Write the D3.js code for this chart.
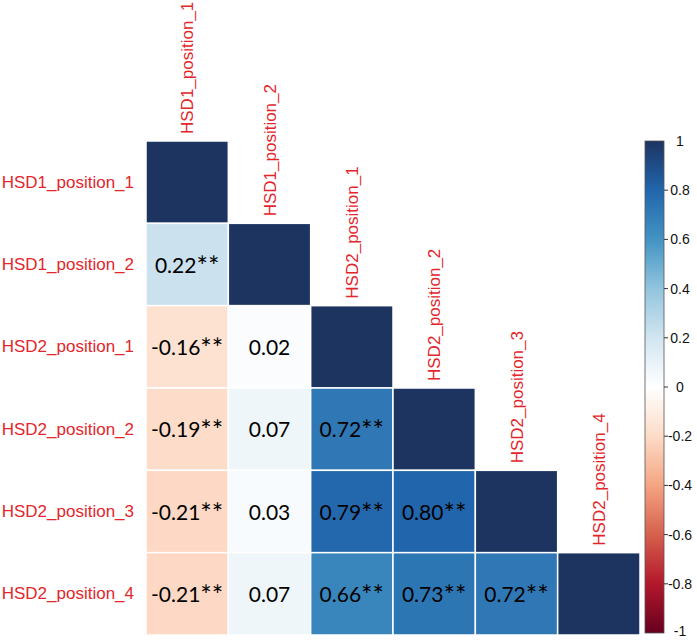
<!DOCTYPE html>
<html>
<head>
<meta charset="utf-8">
<script src="https://cdn.jsdelivr.net/npm/d3@7"></script>
<style>
  html, body { margin: 0; padding: 0; background: #fff; }
  svg { display: block; }
</style>
</head>
<body>
<svg id="chart" width="697" height="642"></svg>
<script>
// ---- data ----
const variables = ["HSD1_position_1", "HSD1_position_2", "HSD2_position_1",
                   "HSD2_position_2", "HSD2_position_3", "HSD2_position_4"];
// lower-triangle correlations, row by row (diagonal = 1)
const corrRows = [
  [1],
  [0.22, 1],
  [-0.16, 0.02, 1],
  [-0.19, 0.07, 0.72, 1],
  [-0.21, 0.03, 0.79, 0.80, 1],
  [-0.21, 0.07, 0.66, 0.73, 0.72, 1]
];
const sigRows = [
  [""],
  ["**", ""],
  ["**", "", ""],
  ["**", "", "**", ""],
  ["**", "", "**", "**", ""],
  ["**", "", "**", "**", "**", ""]
];
const legendTicks = [1, 0.8, 0.6, 0.4, 0.2, 0, -0.2, -0.4, -0.6, -0.8, -1];
const paletteStops = ["#67001F", "#B2182B", "#D6604D", "#F4A582", "#FDDBC7", "#FFFFFF",
                      "#D1E5F0", "#92C5DE", "#4393C3", "#2166AC", "#1d3461"];

// ---- setup ----
const svg = d3.select("#chart");
const color = d3.scaleLinear()
  .domain(d3.range(paletteStops.length).map(i => -1 + 2 * i / (paletteStops.length - 1)))
  .range(paletteStops)
  .interpolate(d3.interpolateRgb);

const x = d3.scaleBand().domain(variables).range([146, 640]).padding(0);
const y = d3.scaleBand().domain(variables).range([141, 635]).padding(0);
const bw = x.bandwidth();

const cells = [];
corrRows.forEach((row, i) => {
  row.forEach((v, j) => {
    cells.push({ r: variables[i], c: variables[j], v, sig: sigRows[i][j], diag: i === j });
  });
});

// cells
svg.append("g").selectAll("rect").data(cells).join("rect")
  .attr("x", d => x(d.c))
  .attr("y", d => y(d.r))
  .attr("width", bw)
  .attr("height", y.bandwidth())
  .attr("fill", d => color(d.v))
  .attr("stroke", "#ffffff")
  .attr("stroke-width", 1.5);

// cell text
const fmt = v => v.toFixed(2);
const ct = svg.append("g").selectAll("text").data(cells.filter(d => !d.diag)).join("text")
  .attr("x", d => x(d.c) + bw / 2)
  .attr("y", d => y(d.r) + y.bandwidth() / 2 + 8)
  .attr("text-anchor", "middle")
  .attr("font-family", "Lato, 'Open Sans', sans-serif")
  .attr("font-size", 21)
  .attr("fill", "#000");
ct.append("tspan").text(d => fmt(d.v));
ct.append("tspan").attr("font-size", 27).attr("dy", 3).text(d => d.sig);

// row labels
svg.append("g").selectAll("text").data(variables).join("text")
  .attr("x", 134)
  .attr("y", d => y(d) + y.bandwidth() / 2)
  .attr("text-anchor", "end")
  .attr("dominant-baseline", "central")
  .attr("font-family", "'Liberation Sans', Arial, sans-serif")
  .attr("font-size", 17)
  .attr("fill", "#e3262b")
  .text(d => d);

// column labels (above each diagonal cell)
svg.append("g").selectAll("text").data(variables).join("text")
  .attr("transform", d => `translate(${x(d) + bw / 2 + 6},${y(d) - 7}) rotate(-90)`)
  .attr("text-anchor", "start")
  .attr("font-family", "'Liberation Sans', Arial, sans-serif")
  .attr("font-size", 17)
  .attr("fill", "#e3262b")
  .text(d => d);

// ---- colour legend ----
const lx = 645, lw = 19;
const ly = d3.scaleLinear().domain([1, -1]).range([141, 633]);
const defs = svg.append("defs");
const grad = defs.append("linearGradient").attr("id", "cbar")
  .attr("x1", 0).attr("y1", 0).attr("x2", 0).attr("y2", 1);
d3.range(0, 101).forEach(k => {
  const v = 1 - 2 * k / 100;
  grad.append("stop").attr("offset", `${k}%`).attr("stop-color", color(v));
});
svg.append("rect")
  .attr("x", lx).attr("y", ly(1))
  .attr("width", lw).attr("height", ly(-1) - ly(1))
  .attr("fill", "url(#cbar)")
  .attr("stroke", "#555").attr("stroke-width", 0.8);

const lg = svg.append("g");
lg.selectAll("line").data(legendTicks.filter(t => Math.abs(t) < 1)).join("line")
  .attr("x1", lx + lw).attr("x2", lx + lw + 4)
  .attr("y1", d => ly(d)).attr("y2", d => ly(d))
  .attr("stroke", "#333").attr("stroke-width", 1);
lg.selectAll("text").data(legendTicks).join("text")
  .attr("x", 680)
  .attr("y", d => Math.min(ly(d), 631))
  .attr("text-anchor", "middle")
  .attr("dominant-baseline", "central")
  .attr("font-family", "'Liberation Sans', Arial, sans-serif")
  .attr("font-size", 14)
  .attr("fill", "#111")
  .text(d => String(d));
</script>
</body>
</html>
